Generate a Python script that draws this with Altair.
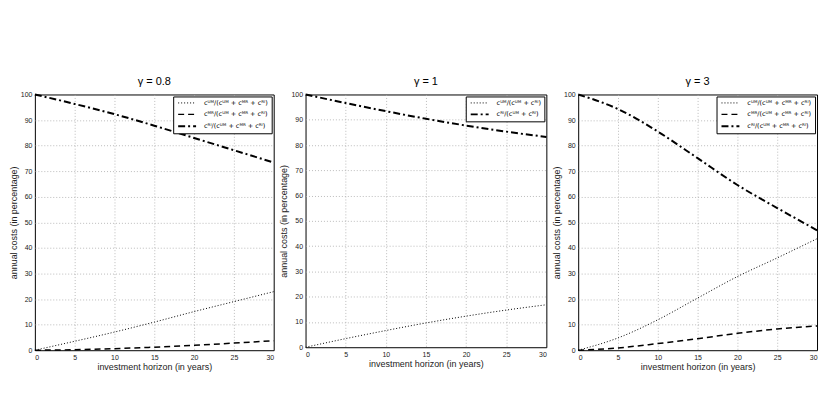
import altair as alt
import pandas as pd

years = [0, 5, 10, 15, 20, 25, 30]

# gamma = 0.8
g08_um = [0, 3.5, 7.1, 11.0, 15.1, 19.0, 22.9]
g08_mr = [0, 0.2, 0.6, 1.2, 1.9, 2.8, 3.7]
g08_ri = [100, 96.3, 92.3, 87.8, 83.0, 78.2, 73.4]

# gamma = 1
g1_um = [0, 3.4, 6.6, 9.6, 12.3, 14.7, 16.8]
g1_ri = [100, 96.6, 93.4, 90.4, 87.7, 85.3, 83.2]

# gamma = 3
g3_um = [0, 4.8, 11.9, 20.4, 28.8, 36.1, 43.6]
g3_mr = [0, 0.9, 2.6, 4.5, 6.6, 8.3, 9.5]
g3_ri = [100, 94.3, 85.5, 75.1, 64.6, 55.6, 46.9]

lab_um3 = "cᵁᴹ/(cᵁᴹ + cᴹᴿ + cᴿᴵ)"
lab_mr3 = "cᴹᴿ/(cᵁᴹ + cᴹᴿ + cᴿᴵ)"
lab_ri3 = "cᴿᴵ/(cᵁᴹ + cᴹᴿ + cᴿᴵ)"
lab_um2 = "cᵁᴹ/(cᵁᴹ + cᴿᴵ)"
lab_ri2 = "cᴿᴵ/(cᵁᴹ + cᴿᴵ)"

DOT = [1, 2]
DASH = [6, 4]
DASHDOT = [7, 3, 2, 3]

FONT = "Liberation Sans, Arial, Helvetica, sans-serif"

edge_x = "datum.value == 0 || datum.value == 30"
edge_y = "datum.value == 0 || datum.value == 100"


def make_df(series):
    rows = []
    for name, vals in series:
        for x, v in zip(years, vals):
            rows.append({"year": x, "value": v, "series": name})
    return pd.DataFrame(rows)


def panel(series, dashes, widths, title, w, h):
    df = make_df(series)
    names = [s[0] for s in series]
    leg = alt.Legend(
        title=None,
        orient="top-right",
        offset=2,
        padding=3,
        strokeColor="black",
        fillColor="white",
        labelFont="DejaVu Sans",
        labelFontSize=6.5,
        labelColor="black",
        labelLimit=300,
        labelOffset=13,
        symbolType="M-3,0H3",
        symbolSize=36,
        symbolOffset=7,
        symbolStrokeColor="black",
        rowPadding=4,
        cornerRadius=0,
    )
    return (
        alt.Chart(df)
        .mark_line(color="black", interpolate="monotone")
        .encode(
            x=alt.X(
                "year:Q",
                scale=alt.Scale(domain=[0, 30], nice=False),
                axis=alt.Axis(
                    values=[0, 5, 10, 15, 20, 25, 30],
                    title="investment horizon (in years)",
                    gridOpacity=alt.condition(edge_x, alt.value(0), alt.value(1)),
                ),
            ),
            y=alt.Y(
                "value:Q",
                scale=alt.Scale(domain=[0, 100], nice=False),
                axis=alt.Axis(
                    values=list(range(0, 101, 10)),
                    title="annual costs (in percentage)",
                    gridOpacity=alt.condition(edge_y, alt.value(0), alt.value(1)),
                ),
            ),
            strokeDash=alt.StrokeDash(
                "series:N",
                scale=alt.Scale(domain=names, range=dashes),
                legend=leg,
            ),
            strokeWidth=alt.StrokeWidth(
                "series:N",
                scale=alt.Scale(domain=names, range=widths),
                legend=leg,
            ),
        )
        .properties(width=w, height=h, title=title)
    )


p1 = panel([(lab_um3, g08_um), (lab_mr3, g08_mr), (lab_ri3, g08_ri)],
           [DOT, DASH, DASHDOT], [1, 2, 2], "γ = 0.8", 240, 257)
p2 = panel([(lab_um2, g1_um), (lab_ri2, g1_ri)],
           [DOT, DASHDOT], [1, 2], "γ = 1", 242, 254)
p3 = panel([(lab_um3, g3_um), (lab_mr3, g3_mr), (lab_ri3, g3_ri)],
           [DOT, DASH, DASHDOT], [1, 2, 2], "γ = 3", 240, 257)

chart = (
    alt.hconcat(p1, p2, p3, spacing=32, bounds="flush")
    .resolve_scale(strokeDash="independent", strokeWidth="independent")
    .resolve_legend(strokeDash="independent", strokeWidth="independent")
    .properties(padding={"left": 0, "top": 66, "right": 0, "bottom": 0})
    .configure_view(stroke="black", strokeWidth=1)
    .configure_axis(
        domain=False,
        ticks=False,
        labelFont=FONT,
        labelFontSize=7,
        labelColor="#222",
        labelPadding=3,
        titleFont=FONT,
        titleFontSize=9,
        titleFontWeight="normal",
        titleColor="#222",
        titlePadding=2,
        grid=True,
        gridColor="#aaa",
        gridDash=[1, 2],
        gridWidth=0.8,
    )
    .configure_title(font=FONT, fontSize=11, fontWeight="normal", color="black", offset=4)
)

chart.save("out.html", embed_options={"renderer": "svg", "actions": False})
